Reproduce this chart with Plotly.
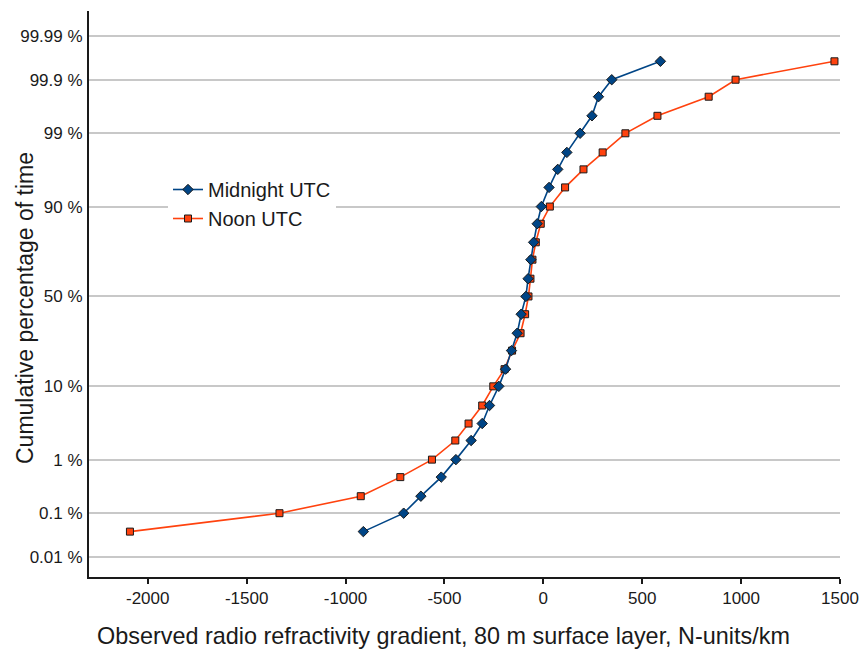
from statistics import NormalDist
import plotly.graph_objects as go

# Cumulative percentage of time (probability levels shared by both series)
percent_levels = [0.04, 0.1, 0.22, 0.5, 1, 2, 3.5, 6, 10, 15, 22, 30, 40, 50,
                  60, 70, 78, 85, 90, 94, 96.5, 98, 99, 99.5, 99.78, 99.9, 99.96]

# Refractivity gradient (N-units/km) at each level
midnight_utc = [-910, -706, -619, -516, -442, -365, -309, -272, -225, -191, -161,
                -132, -112, -88, -77, -63, -49, -31, -10, 29, 73, 119, 186, 246,
                279, 346, 592]
noon_utc = [-2090, -1334, -923, -723, -563, -445, -378, -309, -253, -196, -158,
            -115, -92, -75, -65, -55, -38, -13, 33, 110, 203, 300, 415, 577,
            836, 972, 1472]

# Axis ticks
x_ticks = [-2000, -1500, -1000, -500, 0, 500, 1000, 1500]
x_tick_text = ["-2000", "-1500", "-1000", "-500", "0", "500", "1000", "1500"]
tick_percent = [0.01, 0.1, 1, 10, 50, 90, 99, 99.9, 99.99]
tick_text = ["0.01 %", "0.1 %", "1 %", "10 %", "50 %", "90 %", "99 %", "99.9 %", "99.99 %"]

nd = NormalDist()


def probit(p):
    return nd.inv_cdf(p / 100.0)


y_levels = [probit(p) for p in percent_levels]
y_ticks = [probit(p) for p in tick_percent]

FONT = "Liberation Sans, Arial, sans-serif"
L, R, T, B = 89, 840, 11, 577
W, H = 862, 651

fig = go.Figure()
fig.add_trace(go.Scatter(
    x=noon_utc, y=y_levels, name="Noon UTC", mode="lines+markers",
    line=dict(color="#ff420e", width=1.6),
    marker=dict(symbol="square", size=7, color="#ff420e",
                line=dict(color="#1a1a1a", width=1)),
    legendrank=2,
))
fig.add_trace(go.Scatter(
    x=midnight_utc, y=y_levels, name="Midnight UTC", mode="lines+markers",
    line=dict(color="#004586", width=1.6),
    marker=dict(symbol="diamond", size=8, color="#004586",
                line=dict(color="#1a1a1a", width=1)),
    legendrank=1,
))

fig.update_layout(
    width=W, height=H,
    margin=dict(l=L, r=W - R, t=T, b=H - B, autoexpand=False),
    paper_bgcolor="white", plot_bgcolor="white",
    font=dict(family=FONT, size=17, color="#1a1a1a"),
    showlegend=True,
    legend=dict(
        x=(168 - L) / (R - L), y=(B - 170) / (B - T),
        xanchor="left", yanchor="top",
        bgcolor="white", borderwidth=0,
        font=dict(size=20, color="#1a1a1a"),
        itemwidth=30, tracegroupgap=0,
    ),
    xaxis=dict(
        range=[-2297, 1500], tickvals=x_ticks, ticktext=x_tick_text,
        showgrid=False, zeroline=False, automargin=False,
        showline=True, linecolor="#1a1a1a", linewidth=2,
        ticks="outside", ticklen=5, tickcolor="#1a1a1a", tickwidth=1.5,
        tickfont=dict(size=17), ticklabelstandoff=0,
    ),
    yaxis=dict(
        range=[-4.0, 4.07], tickvals=y_ticks, ticktext=tick_text,
        showgrid=True, gridcolor="#c8c8c8", gridwidth=1.5,
        zeroline=False, automargin=False,
        showline=True, linecolor="#1a1a1a", linewidth=2,
        ticks="", tickfont=dict(size=17), ticklabelstandoff=1,
    ),
    annotations=[
        dict(text="Observed radio refractivity gradient, 80 m surface layer, N-units/km",
             xref="paper", yref="paper", x=(443 - L) / (R - L), y=-(636 - B) / (B - T),
             xanchor="center", yanchor="middle", showarrow=False,
             font=dict(size=23.4, color="#1a1a1a")),
        dict(text="Cumulative percentage of time",
             xref="paper", yref="paper", x=-(L - 25) / (R - L), y=(B - 308) / (B - T),
             xanchor="center", yanchor="middle", textangle=-90, showarrow=False,
             font=dict(size=23, color="#1a1a1a")),
    ],
)

fig.write_html("out.html")
